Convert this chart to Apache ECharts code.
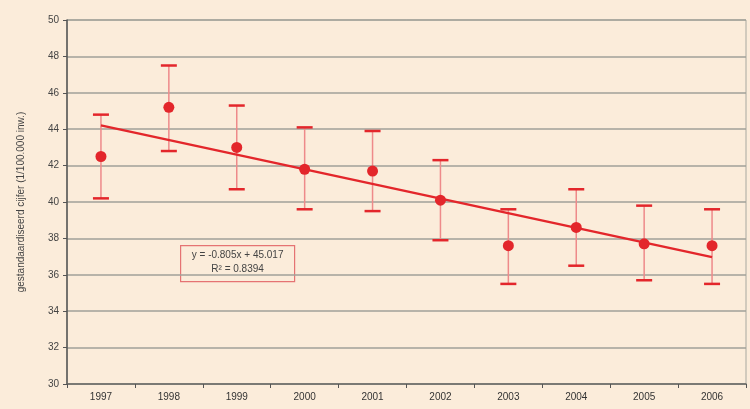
<!DOCTYPE html>
<html>
<head>
<meta charset="utf-8">
<script src="https://cdn.jsdelivr.net/npm/echarts@6/dist/echarts.min.js"></script>
<style>
  html, body { margin: 0; padding: 0; background: #fbecda; }
  #chart { width: 750px; height: 409px; }
</style>
</head>
<body>
<div id="chart"></div>
<script>
// jaren en waarden
const years = ['1997', '1998', '1999', '2000', '2001', '2002', '2003', '2004', '2005', '2006']
const values = [42.5, 45.2, 43.0, 41.8, 41.7, 40.1, 37.6, 38.6, 37.7, 37.6]
const upper = [44.8, 47.5, 45.3, 44.1, 43.9, 42.3, 39.6, 40.7, 39.8, 39.6]
const lower = [40.2, 42.8, 40.7, 39.6, 39.5, 37.9, 35.5, 36.5, 35.7, 35.5]
// trendlijn: begin- en eindpunt
const trendYears = ['1997', '2006']
const trendValues = [44.21, 36.97]
const yTicks = [30, 32, 34, 36, 38, 40, 42, 44, 46, 48, 50]

const red = '#e3262b'
const font = 'Liberation Sans, Arial, sans-serif'

const chart = echarts.init(document.getElementById('chart'))

const errorData = years.map((y, i) => [i, lower[i], upper[i]])

chart.setOption({
  backgroundColor: '#fbecda',
  animation: false,
  grid: {
    left: 67, right: 4, top: 20, bottom: 25,
    show: true, borderColor: '#a8a8a0', borderWidth: 1
  },
  xAxis: {
    type: 'category',
    data: years,
    boundaryGap: true,
    axisLine: { lineStyle: { color: '#6a6a66', width: 1.5 } },
    axisTick: { show: true, interval: 0, length: 4, lineStyle: { color: '#555' } },
    axisLabel: { color: '#333', fontFamily: font, fontSize: 10, margin: 8 }
  },
  yAxis: {
    type: 'value',
    min: yTicks[0],
    max: yTicks[yTicks.length - 1],
    interval: 2,
    name: 'gestandaardiseerd cijfer (1/100.000 inw.)',
    nameLocation: 'middle',
    nameGap: 41,
    nameTextStyle: { color: '#444', fontFamily: font, fontSize: 10 },
    axisLine: { show: true, lineStyle: { color: '#555', width: 1.5 } },
    axisTick: { show: true, length: 4, lineStyle: { color: '#555' } },
    axisLabel: { color: '#444', fontFamily: font, fontSize: 10, margin: 8 },
    splitLine: { lineStyle: { color: '#a0a098', width: 1.5 } }
  },
  series: [
    {
      type: 'custom',
      data: errorData,
      z: 2,
      renderItem: function (params, api) {
        const x = api.value(0)
        const top = api.coord([x, api.value(2)])
        const bot = api.coord([x, api.value(1)])
        const cap = 8
        return {
          type: 'group',
          children: [
            {
              type: 'line',
              shape: { x1: top[0], y1: top[1], x2: bot[0], y2: bot[1] },
              style: { stroke: '#ee8a8a', lineWidth: 1.5 }
            },
            {
              type: 'line',
              shape: { x1: top[0] - cap, y1: top[1], x2: top[0] + cap, y2: top[1] },
              style: { stroke: red, lineWidth: 2.5 }
            },
            {
              type: 'line',
              shape: { x1: bot[0] - cap, y1: bot[1], x2: bot[0] + cap, y2: bot[1] },
              style: { stroke: red, lineWidth: 2.5 }
            }
          ]
        }
      }
    },
    {
      type: 'line',
      data: trendYears.map((y, i) => [y, trendValues[i]]),
      symbol: 'none',
      z: 3,
      lineStyle: { color: red, width: 2.5 }
    },
    {
      type: 'scatter',
      data: values,
      symbol: 'circle',
      symbolSize: 11,
      z: 4,
      itemStyle: { color: red, opacity: 1 }
    }
  ],
  graphic: [
    {
      type: 'group',
      left: 180,
      top: 245,
      children: [
        {
          type: 'rect',
          shape: { x: 0, y: 0, width: 114, height: 36 },
          style: { fill: '#fbecda', stroke: '#e57373', lineWidth: 1.2 }
        },
        {
          type: 'text',
          x: 57, y: 5,
          style: {
            text: 'y = -0.805x + 45.017', align: 'center',
            fill: '#444', font: '10px ' + font
          }
        },
        {
          type: 'text',
          x: 57, y: 19,
          style: {
            text: 'R² = 0.8394', align: 'center',
            fill: '#444', font: '10px ' + font
          }
        }
      ]
    }
  ]
})
</script>
</body>
</html>
